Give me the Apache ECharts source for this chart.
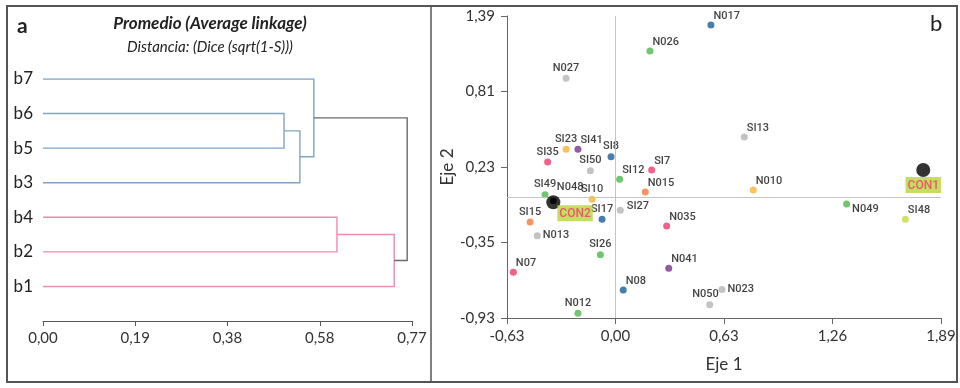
<!DOCTYPE html>
<html>
<head>
<meta charset="utf-8">
<script src="https://cdn.jsdelivr.net/npm/echarts@6/dist/echarts.min.js"></script>
<style>
html,body{margin:0;padding:0;background:#fff}
#chart{width:960px;height:388px}
</style>
</head>
<body>
<div id="chart"></div>
<script>
// ======================================
// a: dendrograma (Average linkage)
// b: ordenación Eje 1 / Eje 2
// ======================================

// --- a: dendrograma ---
const leaves = ["b7","b6","b5","b3","b4","b2","b1"];

// [nodo izq, nodo der, distancia]; nodos 7.. son los grupos ya unidos
const merges = [
[1,2,0.501],
[7,3,0.534],
[0,8,0.563],
[4,5,0.611],
[10,6,0.730],
[9,11,0.757]
];

const distTicks = [0,0.19175,0.3835,0.57525,0.767];

// --- b: puntos ---
const pointNames = [
"N017","N026","N027","SI13","SI23","SI41","SI8","SI35","SI50","SI7",
"SI12","N015","SI49","N048","SI10","SI27","SI17","SI15","N035","N013",
"SI26","N07","N041","N08","N050","N023","N012","N010","N049","SI48"
];

const eje1 = [
0.554,0.200,-0.287,0.748,-0.287,-0.218,-0.026,-0.394,-0.146,0.210,
0.024,0.173,-0.409,-0.361,-0.136,0.028,-0.078,-0.496,0.297,-0.454,
-0.088,-0.593,0.309,0.045,0.547,0.618,-0.218,0.800,1.342,1.683
];

const eje2 = [
1.321,1.121,0.911,0.460,0.366,0.366,0.309,0.268,0.202,0.207,
0.136,0.038,0.017,-0.030,-0.018,-0.103,-0.172,-0.192,-0.223,-0.298,
-0.444,-0.579,-0.548,-0.715,-0.828,-0.712,-0.894,0.053,-0.054,-0.172
];

const conNames = ["CON1","CON2"];
const conEje1 = [1.787,-0.361];
const conEje2 = [0.207,-0.041];

const ejeTicksX = [-0.63,0,0.63,1.26,1.89];
const ejeTicksY = [-0.93,-0.35,0.23,0.81,1.39];

// colores y posición de etiquetas
const pointColors = {
N017:"#1d5d9b",SI8:"#1d5d9b",SI17:"#1d5d9b",N08:"#1d5d9b",
N026:"#4cb848",SI12:"#4cb848",SI49:"#4cb848",SI26:"#4cb848",N012:"#4cb848",N049:"#4cb848",
N027:"#b4b4b4",SI13:"#b4b4b4",SI50:"#b4b4b4",SI27:"#b4b4b4",N013:"#b4b4b4",N050:"#b4b4b4",N023:"#b4b4b4",
SI23:"#fbb034",SI10:"#fbb034",N010:"#fbb034",
SI41:"#7a2f8e",N041:"#7a2f8e",
SI35:"#ee3a6c",SI7:"#ee3a6c",N035:"#ee3a6c",N07:"#ee3a6c",
N015:"#f47a3a",SI15:"#f47a3a",
SI48:"#c5d93f",
N048:"#000000"
};

const labelMode = {
N017:"tr",N026:"tr",SI13:"tr",SI41:"tr",SI7:"tr",SI12:"tr",N015:"tr",
N035:"tr",N07:"tr",N041:"tr",N08:"tr",N010:"tr",SI48:"tr",
N027:"t",SI23:"t",SI8:"t",SI35:"t",SI50:"t",SI49:"t",SI10:"t",
SI17:"t",SI15:"t",SI26:"t",N012:"t",
SI27:"r2",N013:"r",N023:"r",
N049:"rb",N050:"tl",N048:"hi"
};

const labelPos = {
tr:{position:[6,-11]},
t:{position:"top",distance:1},
r:{position:"right",distance:2},
r2:{position:[10,-6]},
rb:{position:[9,3]},
tl:{position:[-14,-12]},
hi:{position:[7,-16]}
};

const narrow = 'Roboto, sans-serif';
const mainFont = 'Lato, "Open Sans", sans-serif';

const fmt = v => v.toFixed(2).replace(".",",");

// --- construir el dendrograma ---
const nodeX = [];
const nodeY = [];
leaves.forEach((l,i)=>{ nodeX.push(0); nodeY.push(i); });

const mergeColors = ["#7ea5c6","#7ea5c6","#7ea5c6","#f28aab","#f28aab","#6b6b6b"];

const dendroLines = merges.map((m,i)=>{
const [a,b,h] = m;
nodeX.push(h);
nodeY.push((nodeY[a]+nodeY[b])/2);
return {
coords:[
[nodeX[a],nodeY[a]],
[h,nodeY[a]],
[h,nodeY[b]],
[nodeX[b],nodeY[b]]
],
lineStyle:{color:mergeColors[i]}
};
});

const chart = echarts.init(document.getElementById("chart"));

const option = {

backgroundColor:"#fff",

textStyle:{fontFamily:mainFont},

grid:[
{left:43,right:548,top:79,bottom:67},
{left:507,right:19,top:16,bottom:70}
],

xAxis:[
{
type:"value",
gridIndex:0,
min:0,
max:0.767,
axisLine:{onZero:false,lineStyle:{color:"#555",width:1}},
axisTick:{show:true,length:5,customValues:distTicks,lineStyle:{color:"#555"}},
axisLabel:{customValues:distTicks,formatter:fmt,fontSize:15,color:"#333",margin:10,fontFamily:mainFont},
splitLine:{show:false}
},
{
type:"value",
gridIndex:1,
min:-0.63,
max:1.89,
axisLine:{onZero:false,lineStyle:{color:"#666",width:1}},
axisTick:{show:true,length:6,customValues:ejeTicksX,lineStyle:{color:"#666"}},
axisLabel:{customValues:ejeTicksX,formatter:fmt,fontSize:15,color:"#333",margin:11,fontFamily:mainFont},
splitLine:{show:false},
name:"Eje 1",
nameLocation:"middle",
nameGap:38,
nameTextStyle:{fontSize:17,color:"#333",fontFamily:mainFont}
}
],

yAxis:[
{
type:"value",
gridIndex:0,
min:0,
max:7,
interval:1,
inverse:true,
axisLine:{show:false,onZero:false},
axisTick:{show:false},
splitLine:{show:false},
axisLabel:{
formatter:v=>leaves[v]||"",
fontSize:17,
color:"#222",
margin:10,
fontFamily:mainFont
}
},
{
type:"value",
gridIndex:1,
min:-0.93,
max:1.39,
axisLine:{show:true,onZero:false,lineStyle:{color:"#666",width:1}},
axisTick:{show:true,length:6,customValues:ejeTicksY,lineStyle:{color:"#666"}},
axisLabel:{customValues:ejeTicksY,formatter:fmt,fontSize:15,color:"#333",margin:12,fontFamily:mainFont},
splitLine:{show:false},
name:"Eje 2",
nameLocation:"middle",
nameGap:50,
nameTextStyle:{fontSize:17,color:"#333",fontFamily:mainFont}
}
],

series:[

{
type:"lines",
coordinateSystem:"cartesian2d",
xAxisIndex:0,
yAxisIndex:0,
polyline:true,
silent:true,
lineStyle:{width:1.4,opacity:1},
data:dendroLines
},

{
type:"scatter",
xAxisIndex:1,
yAxisIndex:1,
symbolSize:7,
silent:true,
z:3,
data:pointNames.map((n,i)=>({
name:n,
value:[eje1[i],eje2[i]],
itemStyle:{color:pointColors[n]},
label:Object.assign({
show:true,
formatter:n,
color:"#111",
fontSize:11,
fontWeight:500,
fontFamily:narrow
},labelPos[labelMode[n]])
})),
markLine:{
silent:true,
symbol:"none",
label:{show:false},
lineStyle:{color:"#c4c4c4",type:"solid",width:1},
data:[{xAxis:0},{yAxis:0}]
}
},

{
type:"scatter",
xAxisIndex:1,
yAxisIndex:1,
symbolSize:14,
silent:true,
z:5,
itemStyle:{color:"#000"},
data:conNames.map((n,i)=>({
name:n,
value:[conEje1[i],conEje2[i]],
label:Object.assign({
show:true,
formatter:n,
color:"#ee3a6c",
backgroundColor:"#b9d43a",
padding:[3,2,1,2],
fontSize:12,
fontWeight:500,
fontFamily:narrow
}, i===0 ? {position:"bottom",distance:0} : {position:[11,10]})
}))
}

],

graphic:[
{
type:"rect",
shape:{x:7,y:6,width:950,height:376},
style:{fill:"none",stroke:"#555",lineWidth:2},
silent:true
},
{
type:"line",
shape:{x1:431,y1:6,x2:431,y2:382},
style:{stroke:"#555",lineWidth:1.5},
silent:true
},
{
type:"text",
x:17,
y:16,
style:{text:"a",font:"bold 21px Lato, sans-serif",fill:"#222"}
},
{
type:"text",
x:210,
y:24,
style:{text:"Promedio (Average linkage)",font:"italic bold 17px Lato, sans-serif",fill:"#222",textAlign:"center",textVerticalAlign:"middle",align:"center",verticalAlign:"middle"}
},
{
type:"text",
x:210,
y:47,
style:{text:"Distancia: (Dice (sqrt(1-S)))",font:"italic 15px Lato, sans-serif",fill:"#222",textAlign:"center",textVerticalAlign:"middle",align:"center",verticalAlign:"middle"}
},
{
type:"text",
x:930,
y:13,
style:{text:"b",font:"22px Lato, sans-serif",fill:"#222"}
}
]

};

chart.setOption(option);
</script>
</body>
</html>
